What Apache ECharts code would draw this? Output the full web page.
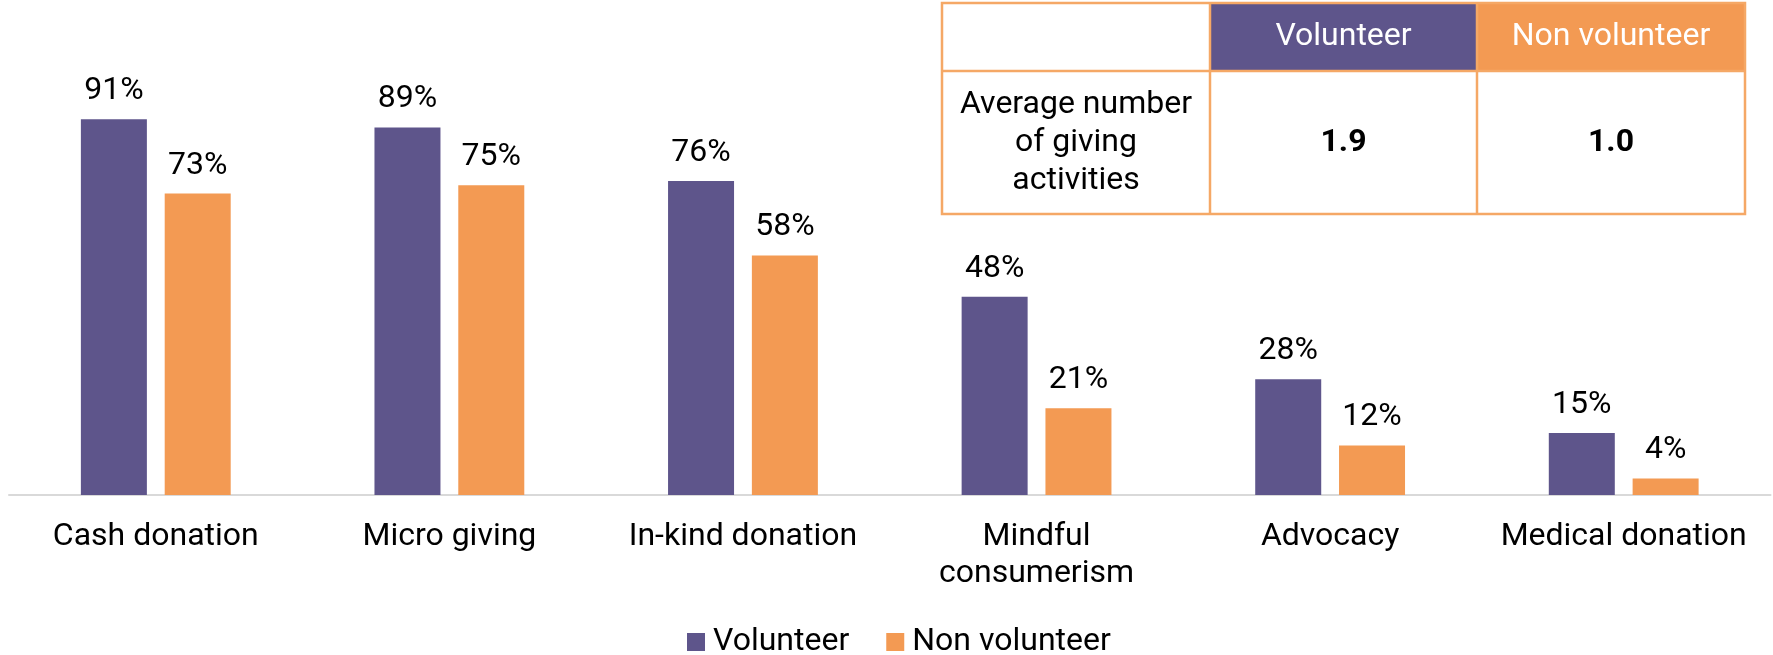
<!DOCTYPE html>
<html>
<head>
<meta charset="utf-8">
<script src="https://cdn.jsdelivr.net/npm/echarts@6/dist/echarts.min.js"></script>
<style>
html,body{margin:0;padding:0;background:#fff;}
#chart{width:1773px;height:655px;}
</style>
</head>
<body>
<div id="chart"></div>
<script>
const categories = ['Cash donation', 'Micro giving', 'In-kind donation', 'Mindful\nconsumerism', 'Advocacy', 'Medical donation'];
const volunteer = [91, 89, 76, 48, 28, 15];
const nonVolunteer = [73, 75, 58, 21, 12, 4];
const seriesNames = ['Volunteer', 'Non volunteer'];
const tableRowLabel = 'Average number\nof giving\nactivities';
const tableValues = ['1.9', '1.0'];

const PURPLE = '#5E558B';
const ORANGE = '#F39A53';
const BORDER = '#F5A866';
const FONT = 'Roboto';
const FS = 32;

const chart = echarts.init(document.getElementById('chart'), null, {renderer: 'canvas'});

const labelStyle = {
  show: true,
  position: 'top',
  distance: 12,
  color: '#000',
  fontFamily: FONT,
  fontSize: FS,
  formatter: p => p.value + '%'
};

// table geometry
const tx0 = 942, tx1 = 1210, tx2 = 1477, tx3 = 1745;
const ty0 = 3, ty1 = 71, ty2 = 214;

const option = {
  animation: false,
  backgroundColor: '#fff',
  grid: {left: 9, right: 2.5, top: 82, bottom: 160, containLabel: false},
  legend: {
    data: seriesNames,
    left: 687,
    top: 626,
    padding: 0,
    icon: 'rect',
    itemWidth: 18,
    itemHeight: 18,
    itemGap: 37,
    textStyle: {fontFamily: FONT, fontSize: FS, color: '#000', lineHeight: 32, padding: [0, 0, 0, 3]}
  },
  xAxis: {
    type: 'category',
    data: categories,
    axisLine: {show: true, lineStyle: {color: '#D9D9D9', width: 2}},
    axisTick: {show: false},
    axisLabel: {
      fontFamily: FONT, fontSize: FS, color: '#000', margin: 23, lineHeight: 37, interval: 0
    }
  },
  yAxis: {
    type: 'value',
    min: 0, max: 100,
    show: false,
    splitLine: {show: false}
  },
  series: [
    {
      name: seriesNames[0],
      type: 'bar',
      data: volunteer,
      barWidth: 66,
      barGap: '27%',
      itemStyle: {color: PURPLE},
      label: labelStyle
    },
    {
      name: seriesNames[1],
      type: 'bar',
      data: nonVolunteer,
      barWidth: 66,
      barGap: '27%',
      itemStyle: {color: ORANGE},
      label: labelStyle
    }
  ],
  graphic: [
    {type: 'rect', shape: {x: tx1, y: ty0, width: tx2 - tx1, height: ty1 - ty0}, style: {fill: PURPLE}},
    {type: 'rect', shape: {x: tx2, y: ty0, width: tx3 - tx2, height: ty1 - ty0}, style: {fill: ORANGE}},
    {type: 'rect', shape: {x: tx0, y: ty0, width: tx3 - tx0, height: ty2 - ty0}, style: {fill: null, stroke: BORDER, lineWidth: 2.5}},
    {type: 'line', shape: {x1: tx0, y1: ty1, x2: tx3, y2: ty1}, style: {stroke: BORDER, lineWidth: 2.5}},
    {type: 'line', shape: {x1: tx1, y1: ty0, x2: tx1, y2: ty2}, style: {stroke: BORDER, lineWidth: 2.5}},
    {type: 'line', shape: {x1: tx2, y1: ty0, x2: tx2, y2: ty2}, style: {stroke: BORDER, lineWidth: 2.5}},
    {type: 'text', x: (tx1 + tx2) / 2, y: (ty0 + ty1) / 2, style: {text: seriesNames[0], fill: '#fff', fontFamily: FONT, fontSize: FS, align: 'center', verticalAlign: 'middle'}},
    {type: 'text', x: (tx2 + tx3) / 2, y: (ty0 + ty1) / 2, style: {text: seriesNames[1], fill: '#fff', fontFamily: FONT, fontSize: FS, align: 'center', verticalAlign: 'middle'}},
    {type: 'text', x: (tx0 + tx1) / 2, y: (ty1 + ty2) / 2, style: {text: tableRowLabel, fill: '#000', fontFamily: FONT, fontSize: FS, lineHeight: 38, align: 'center', verticalAlign: 'middle'}},
    {type: 'text', x: (tx1 + tx2) / 2, y: (ty1 + ty2) / 2, style: {text: tableValues[0], fill: '#000', fontFamily: FONT, fontSize: FS, fontWeight: 'bold', align: 'center', verticalAlign: 'middle'}},
    {type: 'text', x: (tx2 + tx3) / 2, y: (ty1 + ty2) / 2, style: {text: tableValues[1], fill: '#000', fontFamily: FONT, fontSize: FS, fontWeight: 'bold', align: 'center', verticalAlign: 'middle'}}
  ]
};

chart.setOption(option);
</script>
</body>
</html>
